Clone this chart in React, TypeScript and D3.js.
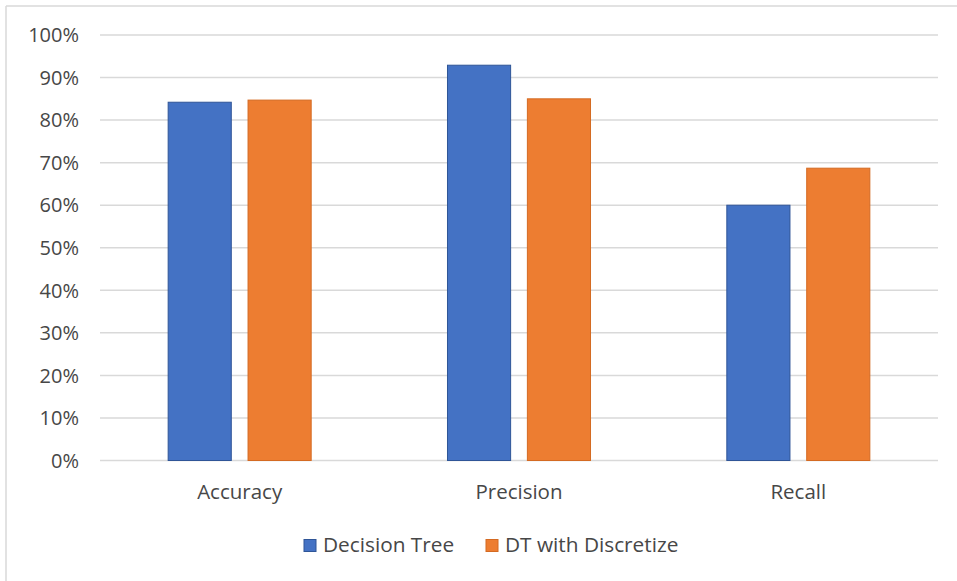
import React from "react";
import * as d3 from "d3";

const categories = ["Accuracy", "Precision", "Recall"];
const seriesNames = ["Decision Tree", "DT with Discretize"];
const decisionTree = [0.842, 0.929, 0.6];
const dtDiscretize = [0.847, 0.85, 0.687];
const yTicks = [0, 0.1, 0.2, 0.3, 0.4, 0.5, 0.6, 0.7, 0.8, 0.9, 1.0];

const fills = ["#4472C4", "#ED7D31"];
const strokes = ["#2F5597", "#D46A22"];

const W = 957;
const H = 581;
const FONT = "'Open Sans', sans-serif";
const TEXT = "#474747";

export default function App() {
  const x0 = d3.scaleBand<string>().domain(categories).range([100, 938]).padding(0);
  const y = d3.scaleLinear().domain([0, 1]).range([460.5, 35]);
  const bw = x0.bandwidth();
  const barW = bw * 0.226;
  const gap = bw * 0.06;
  const series = [decisionTree, dtDiscretize];
  const fmt = d3.format(".0%");

  return (
    <svg
      width={W}
      height={H}
      style={{ position: "absolute", left: 0, top: 0, background: "#fff" }}
    >
      <rect x={0} y={0} width={W} height={H} fill="#fff" />
      {/* chart frame */}
      <line x1={6} x2={6} y1={6} y2={H} stroke="#D9D9D9" strokeWidth={1.5} />
      <line x1={6} x2={W} y1={6} y2={6} stroke="#D9D9D9" strokeWidth={1.5} />

      {/* gridlines and y tick labels */}
      {yTicks.map((t) => (
        <g key={t}>
          <line
            x1={100}
            x2={938}
            y1={y(t)}
            y2={y(t)}
            stroke="#D9D9D9"
            strokeWidth={1.5}
          />
          <text
            x={79}
            y={y(t)}
            dy="0.36em"
            textAnchor="end"
            fontFamily={FONT}
            fontSize={20}
            fill={TEXT}
          >
            {fmt(t)}
          </text>
        </g>
      ))}

      {/* bars */}
      {categories.map((c, i) => {
        const cx = (x0(c) as number) + bw / 2;
        return (
          <g key={c}>
            {series.map((s, j) => {
              const left = j === 0 ? cx - gap / 2 - barW : cx + gap / 2;
              return (
                <rect
                  key={j}
                  x={left}
                  y={y(s[i])}
                  width={barW}
                  height={y(0) - y(s[i])}
                  fill={fills[j]}
                  stroke={strokes[j]}
                  strokeWidth={1}
                />
              );
            })}
            <text
              x={cx}
              y={499}
              textAnchor="middle"
              fontFamily={FONT}
              fontSize={20.5}
              fill={TEXT}
            >
              {c}
            </text>
          </g>
        );
      })}

      {/* legend */}
      {seriesNames.map((n, j) => {
        const lx = j === 0 ? 304 : 486;
        return (
          <g key={n}>
            <rect
              x={lx}
              y={539.5}
              width={12}
              height={12}
              fill={fills[j]}
              stroke={strokes[j]}
              strokeWidth={1}
            />
            <text
              x={lx + 19}
              y={552}
              fontFamily={FONT}
              fontSize={20.8}
              fill={TEXT}
            >
              {n}
            </text>
          </g>
        );
      })}
    </svg>
  );
}
